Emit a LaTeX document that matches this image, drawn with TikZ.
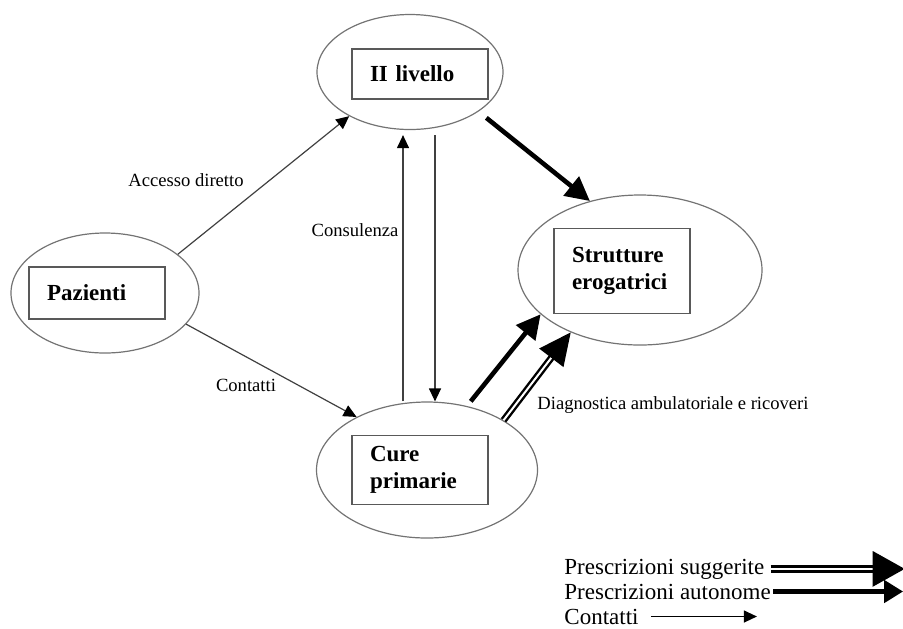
\documentclass[tikz,border=0pt]{standalone}
\usepackage{fontspec}
\setmainfont{Liberation Serif}
\usetikzlibrary{shapes.geometric,arrows.meta}

\tikzset{
  oval/.style={draw=black!55, line width=0.6pt, ellipse, inner sep=0pt},
  label box/.style={draw=black!65, line width=0.7pt, inner xsep=9pt, inner ysep=0pt,
    align=left, text width=50pt, font=\fontsize{11.5}{13.5}\selectfont\bfseries},
  edge label/.style={font=\fontsize{9.3}{11}\selectfont, inner sep=1pt},
  legend text/.style={font=\fontsize{11.5}{13.5}\selectfont, inner sep=1pt},
  contact/.style={draw=black!75, line width=0.6pt, -{Triangle[length=6.5pt,width=6pt,color=black]}},
  autonomous/.style={line width=2.3pt, -{Triangle[length=12pt,width=12pt]}},
  suggested/.style={double, line width=1.2pt, double distance=1pt, -{Triangle[length=16pt,width=15pt]}}
}

\begin{document}
\begin{tikzpicture}[x=0.5pt, y=-0.5pt]
\useasboundingbox (0,0) rectangle (903,628);

% ovals
\node[oval, minimum width=93pt, minimum height=57.5pt] (liv) at (410,72) {};
\node[oval, minimum width=122pt, minimum height=75pt] (str) at (640,270) {};
\node[oval, minimum width=94pt, minimum height=60pt] (paz) at (105,293) {};
\node[oval, minimum width=110.5pt, minimum height=68pt] (cure) at (427,470) {};

% boxes
\node[label box, minimum height=25pt] (livbox) at (420,74) {II livello};
\node[label box, minimum height=42.5pt] (strbox) at (622,271) {Strutture\\erogatrici};
\node[label box, minimum height=26pt] (pazbox) at (97,293) {Pazienti};
\node[label box, minimum height=34.5pt] (curebox) at (420,470) {Cure\\primarie};

% contatti
\draw[contact] (paz.28) -- (liv.216);
\draw[contact] (paz.339) -- (cure.143);
\coordinate (up) at ([shift={(-7,5)}]liv.south);
\coordinate (down) at ([shift={(25,5)}]liv.south);
\draw[contact] (up |- cure.north) -- (up);
\draw[contact] (down) -- (down |- cure.north);

% prescrizioni
\draw[autonomous, shorten <=5pt] (liv.330) -- (str.126);
\draw[autonomous, shorten <=3pt] (cure.58) -- (str.204);
\draw[suggested] (cure.33) -- (str.222);

% labels
\node[edge label] (acc) at (186,180) {Accesso diretto};
\node[edge label] (cont) at (246,385) {Contatti};
\node[edge label] (cons) at (355,230) {Consulenza};
\node[edge label, anchor=west] (diag) at (535,405) {Diagnostica ambulatoriale e ricoveri};

% legend
\node[legend text, anchor=base west] (sug) at (562,574) {Prescrizioni suggerite};
\node[legend text, anchor=base west] (aut) at (562,599) {Prescrizioni autonome};
\node[legend text, anchor=base west] (con) at (562,624) {Contatti};
\draw[suggested, line width=1.5pt, double distance=0.9pt, -{Triangle[length=16pt,width=17.5pt]}] ([xshift=2pt]sug.east) -- ++(134,0);
\draw[autonomous, -{Triangle[length=9.5pt,width=11pt]}] (aut.east) -- ++(130,0);
\draw[line width=0.6pt, -{Triangle[length=6.5pt,width=6pt]}] ([xshift=5pt]con.east) -- ++(106,0);

\end{tikzpicture}
\end{document}
